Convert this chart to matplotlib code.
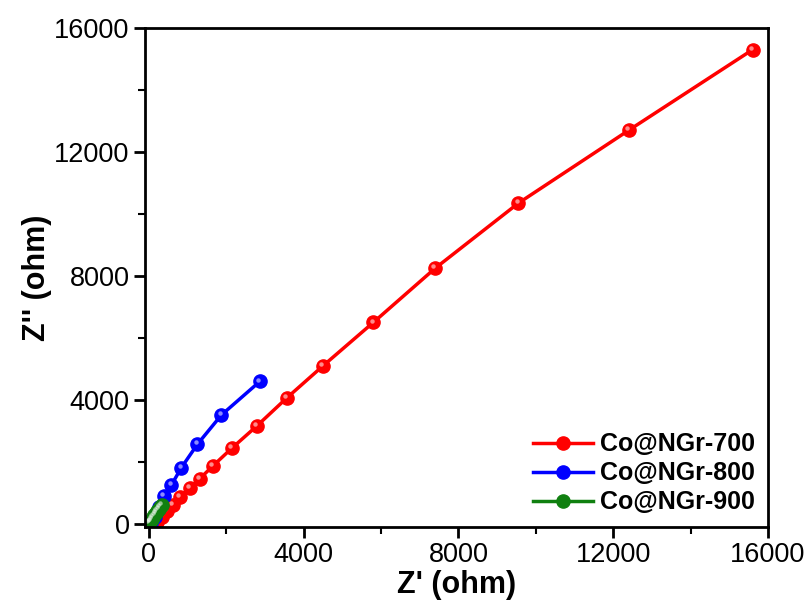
import matplotlib
matplotlib.use("Agg")
import matplotlib.pyplot as plt
from matplotlib.ticker import MultipleLocator
import matplotlib.transforms as mtransforms

plt.rcParams['font.family'] = ['Liberation Sans', 'DejaVu Sans']

labels = ["Co@NGr-700", "Co@NGr-800", "Co@NGr-900"]
colors = ["#ff0000", "#0000ff", "#108010"]

x700 = [199, 328, 457, 612, 801, 1060, 1318, 1654, 2150, 2790, 3560, 4500, 5800, 7400, 9550, 12400, 15600]
y700 = [74, 235, 419, 613, 881, 1152, 1461, 1871, 2450, 3160, 4060, 5100, 6500, 8250, 10350, 12700, 15300]

x800 = [60, 155, 266, 395, 584, 840, 1255, 1876, 2870]
y800 = [40, 235, 558, 913, 1258, 1816, 2571, 3516, 4600]

x900 = [10, 30, 55, 80, 110, 140, 175, 210, 250, 290, 335]
y900 = [20, 60, 110, 165, 225, 285, 345, 410, 480, 550, 615]

series = [(x700, y700), (x800, y800), (x900, y900)]

fig = plt.figure(figsize=(8.12, 6.16), dpi=100)
ax = fig.add_axes([0.1786, 0.1445, 0.7672, 0.81])

for (xs, ys), c, lab in zip(series, colors, labels):
    ax.plot(xs, ys, '-', color=c, lw=2.5, marker='o', ms=9.5,
            mfc=c, mec=c, label=lab)
    off = mtransforms.offset_copy(ax.transData, fig=fig, x=-1.3, y=1.3, units='points')
    ax.plot(xs, ys, linestyle='none', marker='o', ms=3.2, mfc='#ffffff', mec='none',
            alpha=0.55, transform=off)

ax.set_xlim(-100, 16000)
ax.set_ylim(-100, 16000)
ax.xaxis.set_major_locator(MultipleLocator(4000))
ax.yaxis.set_major_locator(MultipleLocator(4000))
ax.xaxis.set_minor_locator(MultipleLocator(2000))
ax.yaxis.set_minor_locator(MultipleLocator(2000))
ax.tick_params(which='major', direction='out', length=8, width=2, labelsize=19.5, pad=3)
ax.tick_params(which='minor', direction='out', length=5, width=1.5)
ax.tick_params(top=False, right=False)
for s in ax.spines.values():
    s.set_linewidth(2)

ax.set_xlabel("Z' (ohm)", fontsize=22, fontweight='bold', labelpad=1)
ax.set_ylabel("Z'' (ohm)", fontsize=22, fontweight='bold', labelpad=2)

leg = ax.legend(loc='lower right', frameon=False, prop={'size': 18, 'weight': 'bold'},
                handlelength=2.4, handletextpad=0.3, labelspacing=0.2,
                borderaxespad=0.1, bbox_to_anchor=(1.0, 0.0))

fig.savefig("out.png", dpi=100)
